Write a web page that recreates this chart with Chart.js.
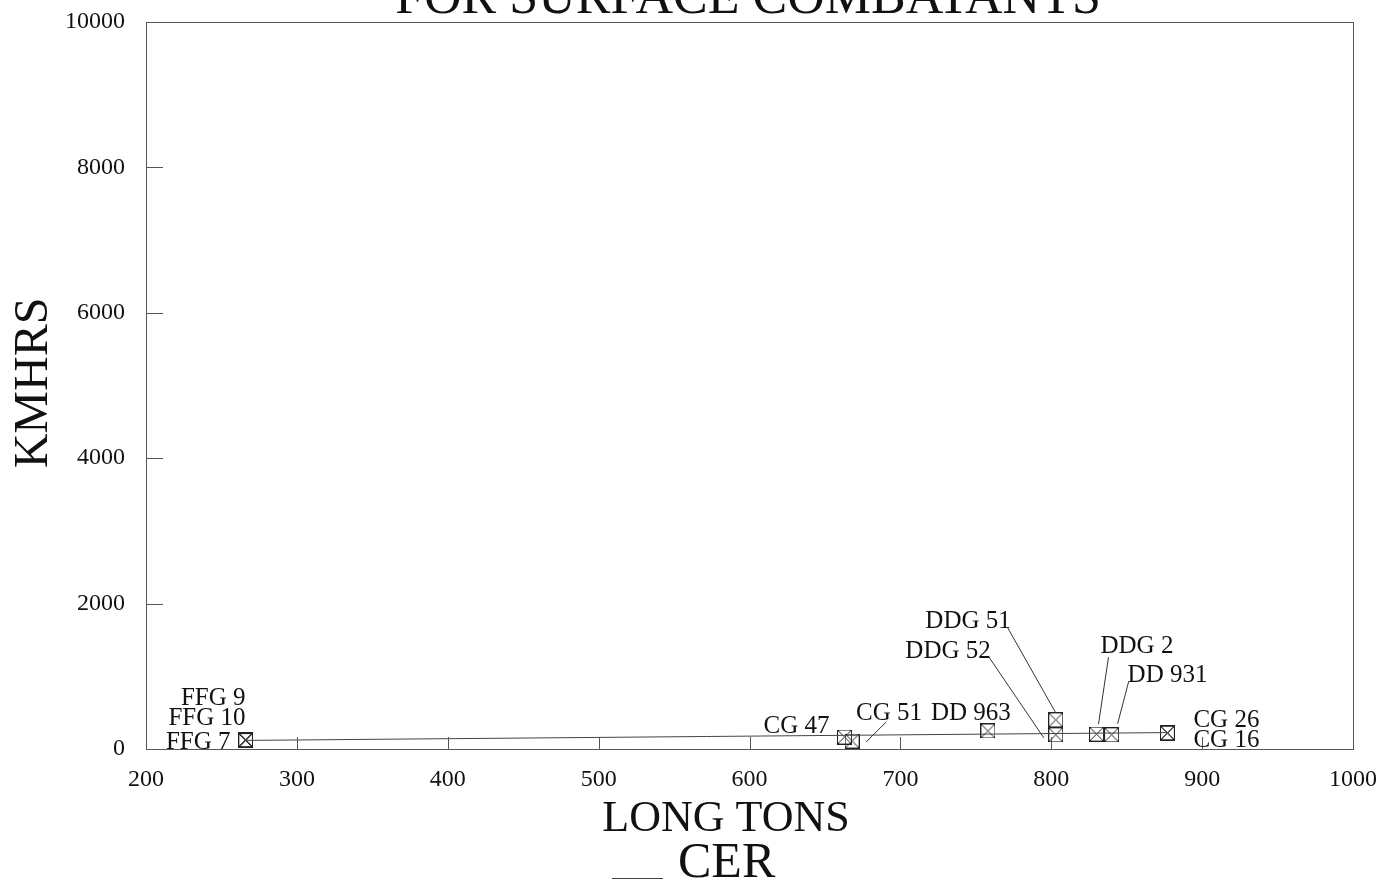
<!DOCTYPE html>
<html>
<head>
<meta charset="utf-8">
<title>KMHRS vs Long Tons</title>
<script src="https://cdn.jsdelivr.net/npm/chart.js@4/dist/chart.umd.min.js"></script>
<style>
  html, body { margin: 0; padding: 0; background: #fff; }
  canvas { display: block; }
</style>
</head>
<body>
<canvas id="chart" width="1382" height="880"></canvas>
<script>
// Ship classes, displacement (long tons) and maintenance hours (KMHRS)
const ships  = ['FFG 9', 'FFG 10', 'FFG 7', 'CG 47', 'CG 51', 'DD 963', 'DDG 51', 'DDG 52', 'DDG 2', 'DD 931', 'CG 26', 'CG 16'];
const tons   = [266, 266, 266, 663, 668, 758, 803, 803, 830, 840, 877, 877];
const kmhrs  = [128, 122, 116, 165, 110, 248, 400, 195, 205, 195, 222, 218];

// CER fitted line end points
const cerTons  = [266, 877];
const cerHours = [118, 226];

// Axis tick values
const xTicks = [200, 300, 400, 500, 600, 700, 800, 900, 1000];
const yTicks = [0, 2000, 4000, 6000, 8000, 10000];

const SERIF = "'Liberation Serif', 'Times New Roman', serif";
const INK = '#111';
const FRAME = '#555';

// Label placement for each ship: text offset from the marker, alignment,
// and an optional leader line (from, to) relative to the marker.
const labelPlacement = {
  'FFG 9':  { dx: 0,   dy: -35, align: 'right' },
  'FFG 10': { dx: 0,   dy: -15, align: 'right' },
  'FFG 7':  { dx: -15, dy: 8,   align: 'right' },
  'CG 47':  { dx: -15, dy: -4,  align: 'right' },
  'CG 51':  { dx: 4,   dy: -21, align: 'left',  lead: [34, -19, 14, 1] },
  'DD 963': { dx: -17, dy: -11, align: 'center' },
  'DDG 51': { dx: -45, dy: -92, align: 'right', lead: [-48, -92, 0, -7] },
  'DDG 52': { dx: -65, dy: -77, align: 'right', lead: [-67, -78, -12, 3] },
  'DDG 2':  { dx: 4,   dy: -81, align: 'left',  lead: [12, -77, 2, -10] },
  'DD 931': { dx: 16,  dy: -53, align: 'left',  lead: [17, -53, 6, -11] },
  'CG 26':  { dx: 26,  dy: -6,  align: 'left' },
  'CG 16':  { dx: 26,  dy: 14,  align: 'left' }
};

// Square marker with a cross inside
function boxCross(size) {
  const c = document.createElement('canvas');
  c.width = size; c.height = size;
  const g = c.getContext('2d');
  g.strokeStyle = '#222';
  g.lineWidth = 1;
  g.strokeRect(0.5, 0.5, size - 1, size - 1);
  g.beginPath();
  g.moveTo(1, 1); g.lineTo(size - 1, size - 1);
  g.moveTo(size - 1, 1); g.lineTo(1, size - 1);
  g.stroke();
  return c;
}
const marker = boxCross(15);

// Frame, inward tick marks, titles, legend and point labels
const decorations = {
  id: 'decorations',
  afterDraw(chart) {
    const { ctx, chartArea: a, scales: { x, y } } = chart;
    ctx.save();

    // plot frame
    ctx.strokeStyle = FRAME;
    ctx.lineWidth = 1;
    ctx.strokeRect(a.left + 0.5, a.top + 0.5, a.right - a.left, a.bottom - a.top);

    // inward ticks
    ctx.beginPath();
    xTicks.forEach(v => {
      const px = Math.round(x.getPixelForValue(v)) + 0.5;
      ctx.moveTo(px, a.bottom); ctx.lineTo(px, a.bottom - 12);
    });
    yTicks.forEach(v => {
      const py = Math.round(y.getPixelForValue(v)) + 0.5;
      ctx.moveTo(a.left, py); ctx.lineTo(a.left + 17, py);
    });
    ctx.stroke();

    ctx.fillStyle = INK;
    ctx.textBaseline = 'alphabetic';

    // chart title (runs off the top edge)
    ctx.font = '52px ' + SERIF;
    ctx.textAlign = 'center';
    ctx.fillText('FOR SURFACE COMBATANTS', 748, 13);

    // x axis title
    ctx.font = '44px ' + SERIF;
    ctx.fillText('LONG TONS', 726, 831);

    // y axis title
    ctx.save();
    ctx.translate(47, 383);
    ctx.rotate(-Math.PI / 2);
    ctx.font = '48px ' + SERIF;
    ctx.fillText('KMHRS', 0, 0);
    ctx.restore();

    // legend
    ctx.strokeStyle = '#444';
    ctx.beginPath();
    ctx.moveTo(612, 878.5); ctx.lineTo(663, 878.5);
    ctx.stroke();
    ctx.textAlign = 'left';
    ctx.font = '50px ' + SERIF;
    ctx.fillText('CER', 678, 877);

    // point labels with leader lines
    ctx.font = '25px ' + SERIF;
    ctx.strokeStyle = '#333';
    const meta = chart.getDatasetMeta(1);
    ships.forEach((name, i) => {
      const pt = meta.data[i];
      const p = labelPlacement[name];
      ctx.textAlign = p.align;
      ctx.fillText(name, pt.x + p.dx, pt.y + p.dy);
      if (p.lead) {
        ctx.beginPath();
        ctx.moveTo(pt.x + p.lead[0], pt.y + p.lead[1]);
        ctx.lineTo(pt.x + p.lead[2], pt.y + p.lead[3]);
        ctx.stroke();
      }
    });
    ctx.restore();
  }
};

// Fixed axis box sizes with no extra label overflow padding
function fixBox(size, horizontal) {
  return s => {
    if (horizontal) s.height = size; else s.width = size;
    s.paddingTop = 0; s.paddingBottom = 0;
    s.paddingLeft = 0; s.paddingRight = 0;
  };
}

new Chart(document.getElementById('chart'), {
  type: 'scatter',
  data: {
    datasets: [
      {
        label: 'CER',
        type: 'line',
        data: cerTons.map((t, i) => ({ x: t, y: cerHours[i] })),
        borderColor: '#444',
        borderWidth: 1,
        pointRadius: 0,
        fill: false,
        tension: 0
      },
      {
        label: 'Ships',
        data: tons.map((t, i) => ({ x: t, y: kmhrs[i] })),
        pointStyle: marker,
        pointRadius: 7,
        showLine: false
      }
    ]
  },
  options: {
    responsive: false,
    devicePixelRatio: 1,
    animation: false,
    layout: { padding: { top: 22, right: 29, left: 0, bottom: 0 } },
    plugins: {
      legend: { display: false },
      tooltip: { enabled: false },
      title: { display: false }
    },
    scales: {
      x: {
        type: 'linear',
        min: 200, max: 1000,
        afterBuildTicks: s => { s.ticks = xTicks.map(v => ({ value: v })); },
        afterFit: fixBox(131, true),
        grid: { display: false, drawTicks: false },
        border: { display: false },
        ticks: {
          padding: 16,
          color: INK,
          font: { family: SERIF, size: 24 },
          maxRotation: 0,
          callback: v => String(v)
        }
      },
      y: {
        type: 'linear',
        min: 0, max: 10000,
        afterBuildTicks: s => { s.ticks = yTicks.map(v => ({ value: v })); },
        afterFit: fixBox(146, false),
        grid: { display: false, drawTicks: false },
        border: { display: false },
        ticks: {
          padding: 21,
          color: INK,
          font: { family: SERIF, size: 24 },
          callback: v => String(v)
        }
      }
    }
  },
  plugins: [decorations]
});
</script>
</body>
</html>
